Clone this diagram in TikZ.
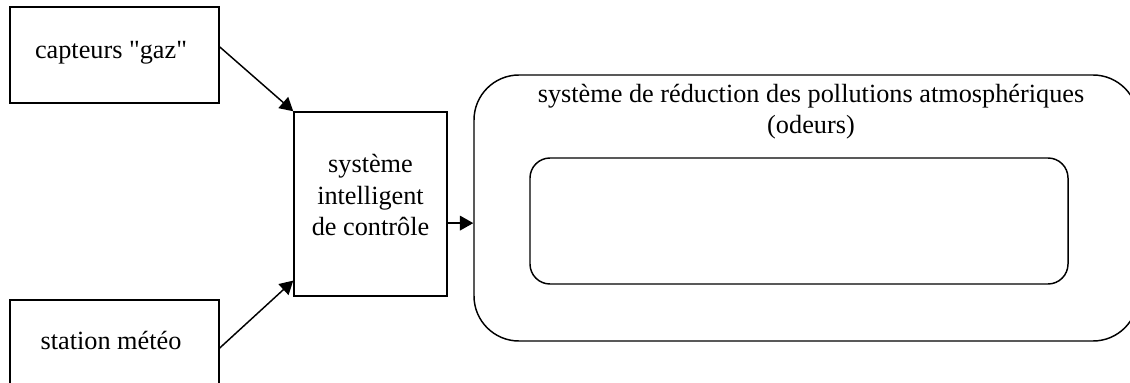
\documentclass[tikz,border=0pt]{standalone}
\usepackage{fontspec}
\setmainfont{Liberation Serif}[Ligatures=TeXOff]
\usetikzlibrary{arrows.meta,calc}
\tikzset{
  box/.style={draw, line width=1.1pt, inner sep=0pt},
  lbl/.style={font=\fontsize{19.7}{23.3}\selectfont, align=center, inner sep=0pt},
  conn/.style={line width=1.1pt, -{Triangle[length=10pt,width=11pt]}},
}
\begin{document}
\begin{tikzpicture}[x=0.75pt,y=-0.75pt]
\useasboundingbox (0,0) rectangle (1130,382);
\clip (0,0) rectangle (1130,382);
\node[box, minimum width=156.75pt, minimum height=72pt] (capteurs) at (114.5,55) {};
\node[lbl] (capteurstxt) at (111,53) {capteurs "gaz"};
\node[box, minimum width=156.75pt, minimum height=72pt] (station) at (114.5,348) {};
\node[lbl] (stationtxt) at (111,340) {station météo};
\node[box, minimum width=114.75pt, minimum height=138pt] (control) at (370.5,204) {};
\node[lbl] (controltxt) at (370.5,195) {système\\intelligent\\de contrôle};
\node[box, rounded corners=33.75pt, minimum width=498pt, minimum height=199.5pt] (big) at (806,208) {};
\node[lbl] (bigtxt) at (811,112) {système de réduction des pollutions atmosphériques\\(odeurs)};
\node[box, rounded corners=15pt, minimum width=403.5pt, minimum height=94.5pt] (inner) at (799,221) {};
\draw[conn] ($(capteurs.north east)!0.417!(capteurs.south east)$) -- (control.north west);
\draw[conn] (station.east) -- ($(control.north west)!0.913!(control.south west)$);
\coordinate (outp) at ($(control.north east)!0.603!(control.south east)$);
\draw[conn] (outp) -- (outp -| big.west);
\end{tikzpicture}
\end{document}
